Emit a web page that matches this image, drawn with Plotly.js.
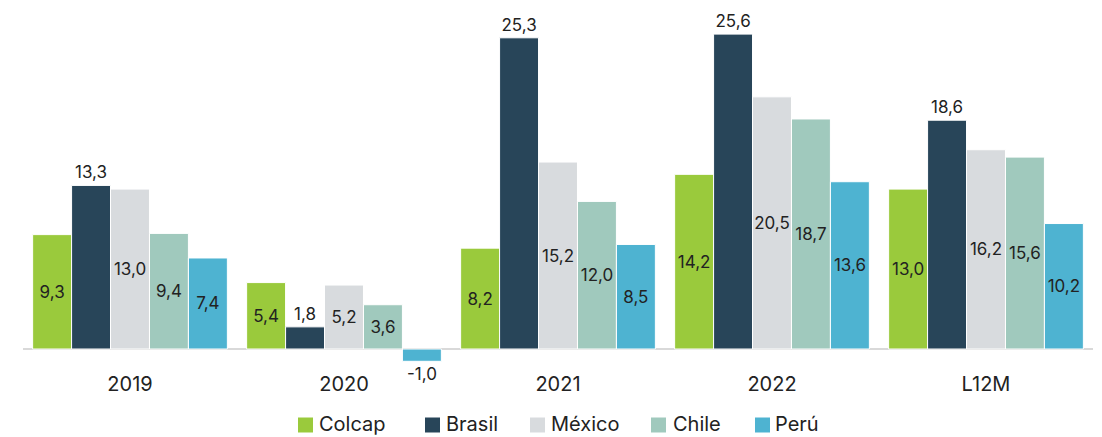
<!DOCTYPE html>
<html>
<head>
<meta charset="utf-8">
<script src="https://cdn.plot.ly/plotly-3.0.1.min.js"></script>
<style>html,body{margin:0;padding:0;background:#fff;}#chart{width:1102px;height:437px;}</style>
</head>
<body>
<div id="chart"></div>
<script>
const categories = ["2019", "2020", "2021", "2022", "L12M"];
const colcap = [9.3, 5.4, 8.2, 14.2, 13.0];
const brasil = [13.3, 1.8, 25.3, 25.6, 18.6];
const mexico = [13.0, 5.2, 15.2, 20.5, 16.2];
const chile = [9.4, 3.6, 12.0, 18.7, 15.6];
const peru = [7.4, -1.0, 8.5, 13.6, 10.2];

const seriesNames = ["Colcap", "Brasil", "México", "Chile", "Perú"];
const seriesValues = [colcap, brasil, mexico, chile, peru];
const colors = ["#9ACA3C", "#284559", "#D8DBDE", "#A0C9BD", "#4EB3D1"];
const FONT = "Inter, 'Open Sans', sans-serif";
const TXT = "#222222";

// plot area in pixels (for converting legend layout to paper coords)
const W = 1102, H = 437;
const M = {l: 23, r: 9, t: 10, b: 72};
const plotW = W - M.l - M.r, plotH = H - M.t - M.b;
const px2x = px => (px - M.l) / plotW;
const py2y = py => (H - M.b - py) / plotH;

const traces = seriesNames.map((name, i) => {
  const outside = name === "Brasil";
  return {
    type: "bar",
    name: name,
    x: categories,
    y: seriesValues[i],
    marker: {color: colors[i], line: {color: "#ffffff", width: 1}},
    texttemplate: "%{y:.1f}",
    textposition: seriesValues[i].map(v => (outside || v < 0) ? "outside" : "inside"),
    insidetextanchor: "middle",
    textangle: 0,
    constraintext: "none",
    cliponaxis: false,
    textfont: {family: FONT, size: 17, color: TXT},
    insidetextfont: {family: FONT, size: 17, color: TXT},
    outsidetextfont: {family: FONT, size: 17, color: TXT},
    hoverinfo: "skip",
    showlegend: false
  };
});

// custom legend (square + label), positions in pixels
const legendSquares = [298, 425, 530, 651, 755];
const legendTexts = [318, 445, 550, 672, 774];
const legendY = 424, sq = 15;
const shapes = seriesNames.map((n, i) => ({
  type: "rect", xref: "paper", yref: "paper",
  x0: px2x(legendSquares[i]), x1: px2x(legendSquares[i] + sq),
  y0: py2y(legendY + 1 + sq / 2), y1: py2y(legendY + 1 - sq / 2),
  fillcolor: colors[i], line: {width: 0}
}));
const annotations = seriesNames.map((n, i) => ({
  text: n, xref: "paper", yref: "paper",
  x: px2x(legendTexts[i]), y: py2y(legendY), xanchor: "left", yanchor: "middle",
  borderpad: 0,
  showarrow: false, font: {family: FONT, size: 20, color: TXT}
}));

const layout = {
  width: W, height: H,
  margin: M,
  barmode: "group",
  bargap: 0.09,
  bargroupgap: 0,
  separators: ",.",
  paper_bgcolor: "#ffffff",
  plot_bgcolor: "#ffffff",
  font: {family: FONT, color: TXT},
  xaxis: {
    type: "category", automargin: false,
    showgrid: false, showline: false, zeroline: false,
    ticks: "", ticklabelstandoff: 5,
    tickfont: {family: FONT, size: 20, color: TXT}
  },
  yaxis: {
    range: [-1.3, 27.56], automargin: false,
    showgrid: false, showticklabels: false, ticks: "",
    zeroline: true, zerolinecolor: "#D9D9D9", zerolinewidth: 2,
    showline: false
  },
  showlegend: false,
  shapes: shapes,
  annotations: annotations
};

Plotly.newPlot("chart", traces, layout, {displayModeBar: false, staticPlot: true});
</script>
</body>
</html>
